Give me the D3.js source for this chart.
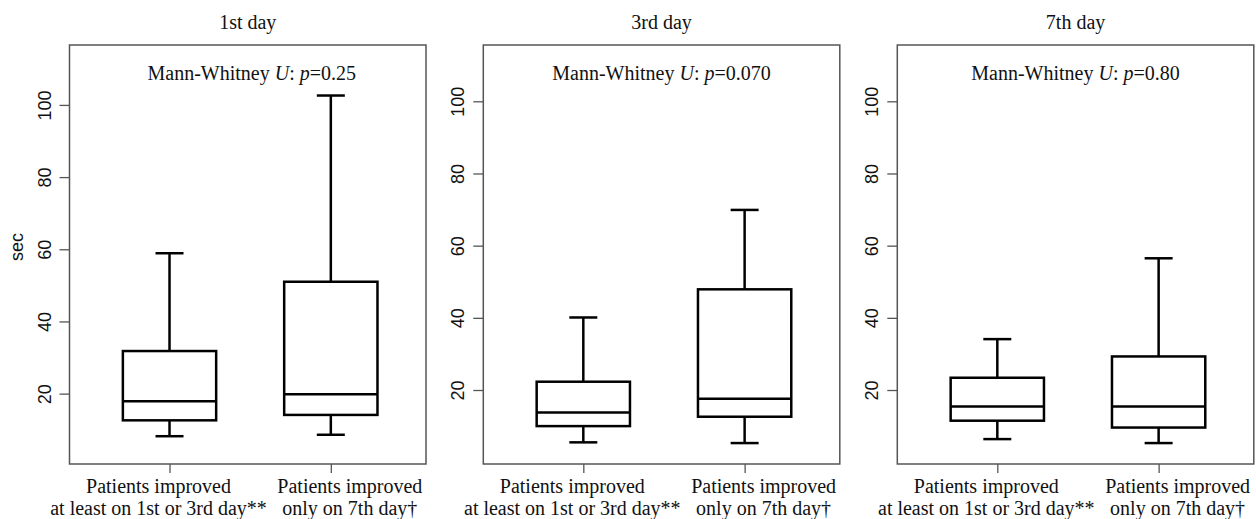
<!DOCTYPE html>
<html>
<head>
<meta charset="utf-8">
<script src="https://cdn.jsdelivr.net/npm/d3@7"></script>
<style>
  body { margin: 0; background: #fff; }
  svg { display: block; }
</style>
</head>
<body>
<div id="chart"></div>
<script>
const days = ["1st day", "3rd day", "7th day"];
const pValues = ["0.25", "0.070", "0.80"];
const groupLine1 = ["Patients improved", "Patients improved"];
const groupLine2 = ["at least on 1st or 3rd day**", "only on 7th day\u2020"];

// [lower whisker, Q1, median, Q3, upper whisker] for each group
const day1 = [[8.2, 12.6, 17.9, 31.8, 58.9], [8.6, 14.1, 19.8, 51.0, 102.6]];
const day3 = [[5.5, 10.0, 13.8, 22.3, 40.1], [5.3, 12.6, 17.6, 47.9, 69.9]];
const day7 = [[6.4, 11.5, 15.4, 23.4, 34.1], [5.3, 9.6, 15.4, 29.3, 56.5]];
const summaries = [day1, day3, day7];

const yTicks = [20, 40, 60, 80, 100];
const yDomains = [[0.5, 116.6], [-0.5, 115.6], [-0.5, 115.6]];

const W = 1256, H = 519;
const panelLeft = [69.5, 483.3, 897.3],
    panelW = 356.5,
    panelTop = 45,
    panelH = 419;
const labelShift = [-11, 19];

const svg = d3.select("#chart").append("svg")
    .attr("width", W)
    .attr("height", H);

const serif = "'Liberation Serif', 'Times New Roman', serif";
const sans = "'Liberation Sans', Arial, sans-serif";

days.forEach((day, i) => {
    const g = svg.append("g")
        .attr("transform", `translate(${panelLeft[i]},${panelTop})`);

    const x = d3.scaleLinear()
        .domain([0.38, 2.59])
        .range([0, panelW]);

    const y = d3.scaleLinear()
        .domain(yDomains[i])
        .range([panelH, 0]);

    // y axis
    const yAxis = g.append("g")
        .call(d3.axisLeft(y).tickValues(yTicks).tickSize(10).tickPadding(0));
    yAxis.select(".domain").remove();
    yAxis.selectAll("line").attr("stroke", "#555").attr("stroke-width", 1.3);
    yAxis.selectAll("text")
        .attr("transform", "rotate(-90)")
        .attr("x", 0)
        .attr("y", -19)
        .attr("dy", 0)
        .attr("text-anchor", "middle")
        .attr("font-family", sans)
        .attr("font-size", 18)
        .attr("fill", "#111");

    // x axis ticks
    const xAxis = g.append("g")
        .attr("transform", `translate(0,${panelH})`)
        .call(d3.axisBottom(x).tickValues([1, 2]).tickSize(9).tickFormat(""));
    xAxis.select(".domain").remove();
    xAxis.selectAll("line").attr("stroke", "#555").attr("stroke-width", 1.3);

    // group labels
    [1, 2].forEach((pos, j) => {
        const t = g.append("text")
            .attr("x", x(pos) + labelShift[j])
            .attr("y", panelH + 29)
            .attr("text-anchor", "middle")
            .attr("font-family", serif)
            .attr("font-size", 20)
            .attr("fill", "#111");
        t.append("tspan").attr("x", x(pos) + labelShift[j]).text(groupLine1[j]);
        t.append("tspan").attr("x", x(pos) + labelShift[j]).attr("dy", 21.5).text(groupLine2[j]);
    });

    // frame
    g.append("rect")
        .attr("width", panelW)
        .attr("height", panelH)
        .attr("fill", "none")
        .attr("stroke", "#555")
        .attr("stroke-width", 1.5);

    // title
    svg.append("text")
        .attr("x", panelLeft[i] + panelW / 2)
        .attr("y", 28.5)
        .attr("text-anchor", "middle")
        .attr("font-family", serif)
        .attr("font-size", 20)
        .attr("fill", "#111")
        .text(day);

    // test annotation
    const mw = g.append("text")
        .attr("x", panelW / 2 + (i === 0 ? 4 : 0))
        .attr("y", 35)
        .attr("text-anchor", "middle")
        .attr("font-family", serif)
        .attr("font-size", 20)
        .attr("fill", "#111");
    mw.append("tspan").text("Mann-Whitney ");
    mw.append("tspan").attr("font-style", "italic").text("U");
    mw.append("tspan").text(": ");
    mw.append("tspan").attr("font-style", "italic").text("p");
    mw.append("tspan").text("=" + pValues[i]);

    // boxplots
    const boxW = 93.3, capW = 28;
    const groups = g.selectAll(".box")
        .data(summaries[i])
        .enter().append("g")
        .attr("class", "box")
        .attr("fill", "none")
        .attr("stroke", "#000")
        .attr("stroke-width", 2.5);

    groups.append("line")
        .attr("x1", (d, j) => x(j + 1)).attr("x2", (d, j) => x(j + 1))
        .attr("y1", d => y(d[3])).attr("y2", d => y(d[4]));
    groups.append("line")
        .attr("x1", (d, j) => x(j + 1)).attr("x2", (d, j) => x(j + 1))
        .attr("y1", d => y(d[0])).attr("y2", d => y(d[1]));
    groups.append("line")
        .attr("x1", (d, j) => x(j + 1) - capW / 2).attr("x2", (d, j) => x(j + 1) + capW / 2)
        .attr("y1", d => y(d[4])).attr("y2", d => y(d[4]));
    groups.append("line")
        .attr("x1", (d, j) => x(j + 1) - capW / 2).attr("x2", (d, j) => x(j + 1) + capW / 2)
        .attr("y1", d => y(d[0])).attr("y2", d => y(d[0]));
    groups.append("rect")
        .attr("x", (d, j) => x(j + 1) - boxW / 2)
        .attr("width", boxW)
        .attr("y", d => y(d[3]))
        .attr("height", d => y(d[1]) - y(d[3]))
        .attr("fill", "#fff");
    groups.append("line")
        .attr("x1", (d, j) => x(j + 1) - boxW / 2).attr("x2", (d, j) => x(j + 1) + boxW / 2)
        .attr("y1", d => y(d[2])).attr("y2", d => y(d[2]));
});

// y axis title
svg.append("text")
    .attr("transform", "translate(22.5,247) rotate(-90)")
    .attr("text-anchor", "middle")
    .attr("font-family", sans)
    .attr("font-size", 18)
    .attr("fill", "#111")
    .text("sec");
</script>
</body>
</html>
